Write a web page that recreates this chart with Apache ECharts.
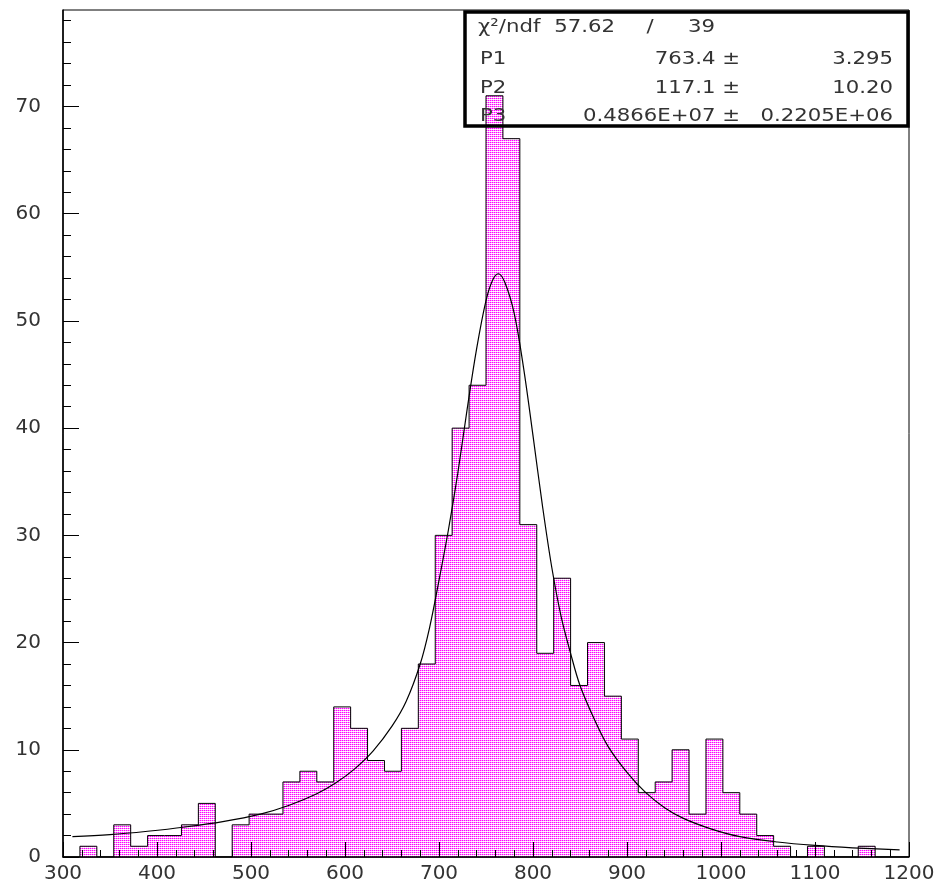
<!DOCTYPE html>
<html lang="en">
<head>
    <meta charset="UTF-8">
    <title>Fit histogram</title>
    <script src="https://cdn.jsdelivr.net/npm/echarts@6.0.0/dist/echarts.min.js"></script>
    <style>
        html, body { margin: 0; padding: 0; background: #fff; }
        #chart { width: 941px; height: 891px; }
    </style>
</head>
<body>
<div id="chart"></div>
<script type="text/javascript">
    // histogram: 50 bins of 18 from 300 to 1200
    var binMin = 300;
    var binWidth = 18;
    var counts = [0, 1, 0, 3, 1, 2, 2, 3, 5, 0,
                  3, 4, 4, 7, 8, 7, 14, 12, 9, 8,
                  12, 18, 30, 40, 44, 71, 67, 31, 19, 26,
                  16, 20, 15, 11, 6, 7, 10, 4, 11, 6,
                  4, 2, 1, 0, 1, 0, 0, 1, 0, 0];

    // fitted curve
    var fitX = [310, 350, 390, 430, 470, 510, 540, 570, 590, 610, 630, 650, 665, 680, 690, 700, 710, 720, 730, 740,
                750, 757, 763, 770, 780, 790, 800, 810, 820, 830, 840, 850, 865, 880, 900, 920, 940, 960, 990, 1020, 1060,
                1100, 1140, 1190];
    var fitY = [1.9, 2.08, 2.4, 2.8, 3.3, 4.0, 4.8, 5.9, 6.9, 8.2, 9.9, 12.2, 14.5, 18.0, 21.4, 25.8, 30.5, 35.8, 41.8, 47.4,
                51.9, 53.8, 54.4, 53.6, 50.7, 45.6, 39.3, 32.8, 27.0, 22.4, 19.0, 16.0, 12.9, 10.3, 7.9, 6.0, 4.6, 3.6, 2.6, 1.9, 1.4,
                1.08, 0.86, 0.66];

    var yTickLabels = [0, 10, 20, 30, 40, 50, 60, 70];
    var yMinorTicks = [2, 4, 6, 8, 12, 14, 16, 18, 22, 24, 26, 28, 32, 34, 36, 38, 42, 44, 46, 48,
                       52, 54, 56, 58, 62, 64, 66, 68, 72, 74, 76, 78];

    // stat box
    var statNames = ['P1', 'P2', 'P3'];
    var statValues = ['763.4 \u00b1', '117.1 \u00b1', '0.4866E+07 \u00b1'];
    var statErrors = ['3.295', '10.20', '0.2205E+06'];
    var chi2 = '57.62';
    var ndf = '39';

    // step outline points
    var stepData = [[binMin, 0]];
    for (var i = 0; i < counts.length; i++) {
        stepData.push([binMin + i * binWidth, counts[i]]);
    }
    var binMax = binMin + counts.length * binWidth;
    stepData.push([binMax, counts[counts.length - 1]]);
    stepData.push([binMax, 0]);

    var fitData = [];
    for (var j = 0; j < fitX.length; j++) {
        fitData.push([fitX[j], fitY[j]]);
    }

    // magenta dotted fill
    var tile = document.createElement('canvas');
    tile.width = 2;
    tile.height = 2;
    var tc = tile.getContext('2d');
    tc.fillStyle = '#ffffff';
    tc.fillRect(0, 0, 2, 2);
    tc.fillStyle = '#ff00ff';
    tc.fillRect(0, 0, 1, 1);
    tc.fillStyle = '#ff90ff';
    tc.fillRect(1, 0, 1, 1);
    tc.fillStyle = '#ffd8ff';
    tc.fillRect(0, 1, 1, 1);

    var fontName = 'DejaVu Sans';
    var textColor = '#333';
    var boxFont = 18;
    var boxScale = 1.18;

    function boxText(x, y, str, align) {
        return {
            type: 'text',
            x: x,
            y: y,
            scaleX: boxScale,
            z: 20,
            style: {
                text: str,
                fill: textColor,
                font: boxFont + 'px "' + fontName + '"',
                textAlign: align,
                textVerticalAlign: 'middle'
            }
        };
    }

    var rowsY = [59, 88, 116];
    var graphics = [{
        type: 'rect',
        z: 20,
        shape: { x: 465, y: 12, width: 443, height: 114 },
        style: { fill: null, stroke: '#000', lineWidth: 3.5 }
    }];
    graphics.push(boxText(478, 27, '\u03c7\u00b2/ndf', 'left'));
    graphics.push(boxText(615, 27, chi2, 'right'));
    graphics.push(boxText(650, 27, '/', 'center'));
    graphics.push(boxText(715, 27, ndf, 'right'));
    for (var r = 0; r < statNames.length; r++) {
        graphics.push(boxText(480, rowsY[r], statNames[r], 'left'));
        graphics.push(boxText(740, rowsY[r], statValues[r], 'right'));
        graphics.push(boxText(893, rowsY[r], statErrors[r], 'right'));
    }

    var dom = document.getElementById('chart');
    var myChart = echarts.init(dom, null, { renderer: 'canvas' });

    var option = {
        animation: false,
        backgroundColor: '#fff',
        grid: {
            left: 63,
            right: 32,
            top: 10,
            bottom: 34,
            show: true,
            borderColor: '#000',
            borderWidth: 1
        },
        xAxis: {
            type: 'value',
            min: 300,
            max: 1200,
            interval: 100,
            z: 5,
            axisLine: { lineStyle: { color: '#000', width: 1.5 } },
            axisTick: { inside: true, length: 15, lineStyle: { color: '#000', width: 1 } },
            minorTick: { show: true, splitNumber: 5, length: 7, lineStyle: { color: '#000', width: 1 } },
            splitLine: { show: false },
            axisLabel: {
                color: textColor, fontFamily: fontName, fontSize: 20, margin: 7,
                formatter: function (v) { return String(v); }
            }
        },
        yAxis: [{
            type: 'value',
            min: 0,
            max: 79,
            interval: 10,
            z: 5,
            axisLine: { show: true, lineStyle: { color: '#000', width: 1.5 } },
            axisTick: { inside: true, length: 16, customValues: yTickLabels, lineStyle: { color: '#000', width: 1 } },
            splitLine: { show: false },
            axisLabel: { color: textColor, fontFamily: fontName, fontSize: 20, margin: 22, customValues: yTickLabels }
        }, {
            type: 'value',
            min: 0,
            max: 79,
            position: 'left',
            z: 5,
            axisLine: { show: false },
            axisTick: { show: true, inside: true, length: 8, customValues: yMinorTicks, lineStyle: { color: '#000', width: 1 } },
            splitLine: { show: false },
            axisLabel: { show: false }
        }],
        series: [{
            type: 'line',
            step: 'end',
            data: stepData,
            symbol: 'none',
            z: 2,
            lineStyle: { color: '#000', width: 1 },
            areaStyle: { color: { image: tile, repeat: 'repeat' }, opacity: 1, origin: 'start' }
        }, {
            type: 'line',
            data: fitData,
            smooth: 0.35,
            symbol: 'none',
            z: 3,
            lineStyle: { color: '#000', width: 1.2 }
        }],
        graphic: graphics
    };

    if (option && typeof option === 'object') {
        myChart.setOption(option);
    }
</script>
</body>
</html>
